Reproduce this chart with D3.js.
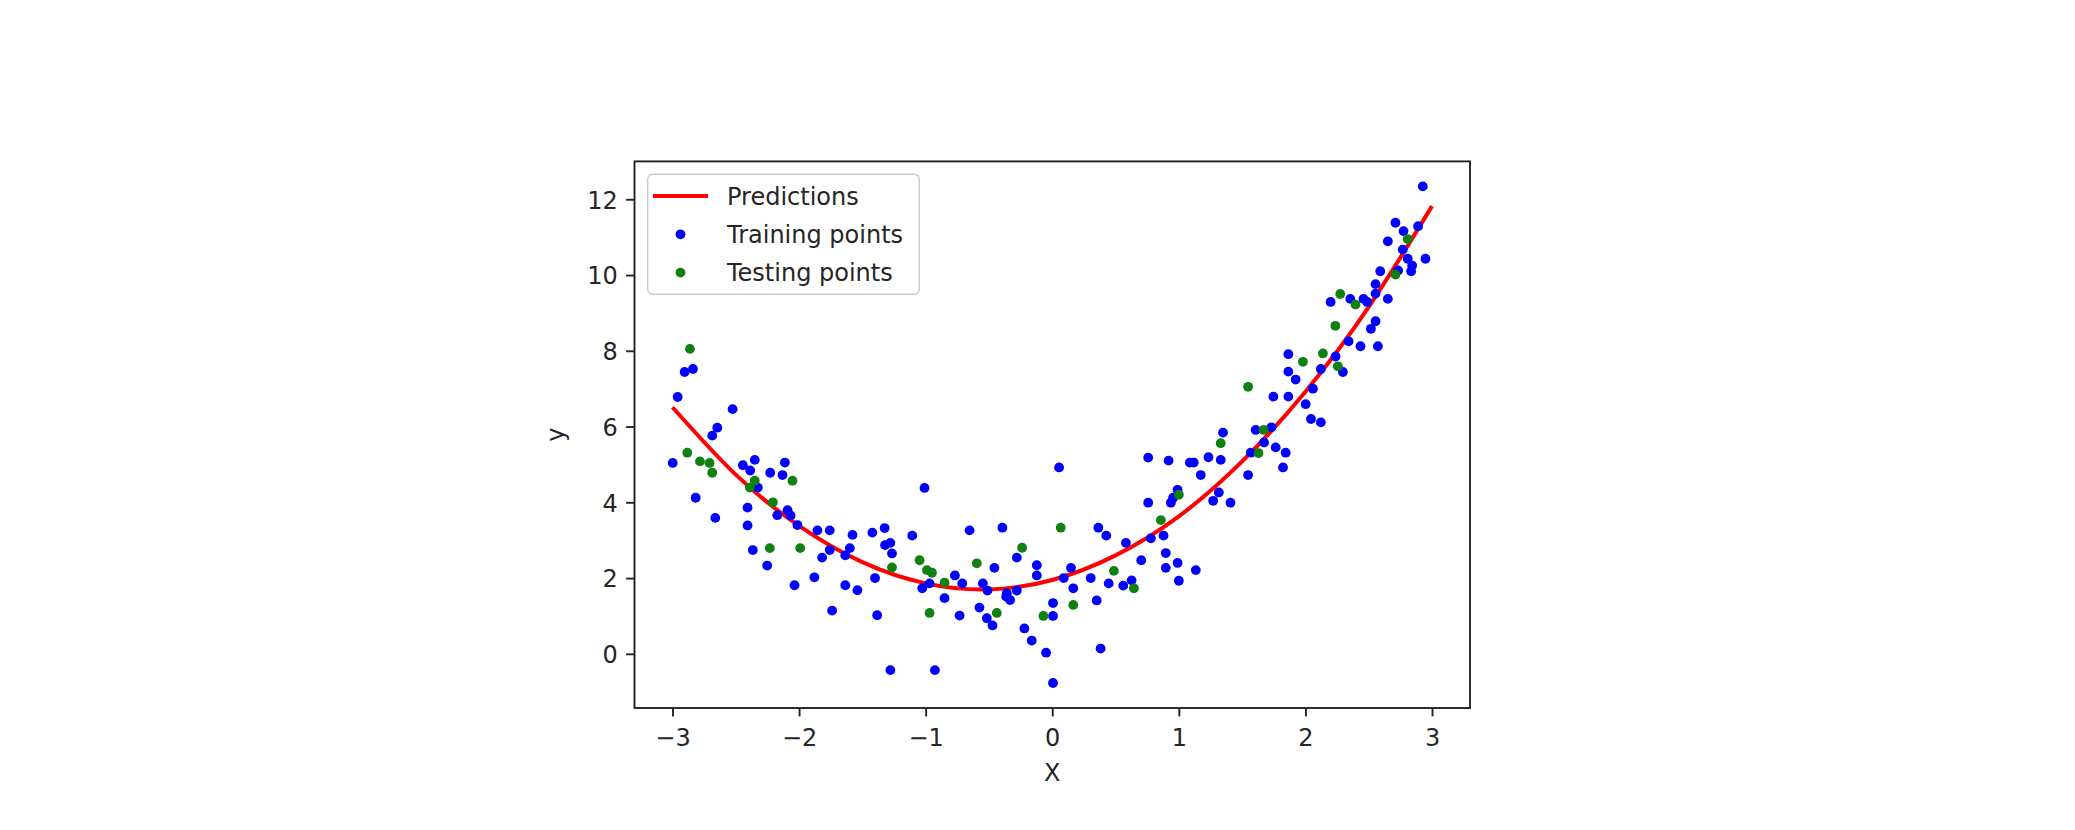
<!DOCTYPE html>
<html>
<head>
<meta charset="utf-8">
<script src="https://cdn.jsdelivr.net/npm/d3@7"></script>
<style>
  html, body { margin: 0; padding: 0; background: #ffffff; }
  svg { display: block; }
  text { font-family: "DejaVu Sans", sans-serif; fill: #262626; }
</style>
</head>
<body>
<svg id="chart" width="2075" height="830"></svg>
<script>
// ---- data ----
const trainX = [
  -2.904,-2.838,-2.959,-2.525,-2.646,-2.686,-2.998,-2.817,-2.662,-2.444,
  -2.350,-2.386,-2.326,-2.112,-2.228,-2.131,-2.407,-2.407,-2.172,-2.091,
  -2.067,-2.013,-2.365,-2.252,-2.036,-1.855,-1.758,-1.818,-1.758,-1.879,
  -1.578,-1.599,-1.635,-1.635,-1.539,-1.739,-1.421,-1.324,-1.400,-1.383,
  -1.279,-1.321,-1.266,-1.279,-1.009,-1.106,-0.969,-1.027,-0.927,-0.851,
  -0.769,-0.711,-0.732,-0.653,-0.575,-0.548,-0.512,-0.517,-0.472,-0.457,
  -0.394,-0.359,-0.333,-0.364,-0.280,-0.280,-0.220,-0.162,-0.122,-0.122,
  -0.049,0.006,0.006,0.006,0.054,0.091,0.148,0.166,0.304,0.351,
  0.364,0.427,0.382,0.446,0.561,0.627,0.582,0.703,0.758,0.919,
  0.758,0.779,0.879,0.897,0.897,0.937,0.955,0.990,0.990,1.000,
  1.134,1.087,1.118,1.173,1.234,1.331,1.349,1.316,1.271,1.408,
  1.547,1.568,1.607,1.673,1.731,1.765,1.844,1.823,1.747,1.865,
  1.865,1.923,1.865,2.002,2.044,2.122,2.059,2.122,2.238,2.296,
  2.341,2.927,2.711,2.775,2.890,2.651,2.769,2.808,2.843,2.835,
  2.948,2.732,2.591,2.554,2.554,2.651,2.488,2.459,2.354,2.199,
  2.554,2.517,2.572,2.435
];
const trainY = [
  7.44,7.52,6.78,6.46,5.97,5.76,5.04,4.12,3.59,4.98,
  5.12,4.84,4.39,5.05,4.78,4.72,3.86,3.39,3.66,3.79,
  3.65,3.40,2.74,2.33,1.81,3.26,3.26,2.54,2.74,2.02,
  3.14,2.79,2.60,1.81,1.68,1.14,3.20,3.32,2.00,1.02,
  2.93,2.87,2.65,-0.43,4.38,3.12,1.86,1.73,-0.43,1.47,
  2.07,1.86,1.01,3.26,1.22,1.86,1.67,0.94,0.75,2.27,
  3.33,1.60,1.42,1.51,1.67,2.54,0.67,0.35,2.34,2.07,
  0.03,-0.77,1.00,1.34,4.92,2.00,2.27,1.73,2.00,1.41,
  3.33,3.12,0.14,1.86,1.80,1.94,2.93,2.47,5.18,5.10,
  3.99,3.05,3.12,2.66,2.27,3.99,4.12,4.33,2.40,1.93,
  2.21,5.05,5.05,4.72,5.19,5.12,5.84,4.26,4.04,3.99,
  4.72,5.31,5.91,5.58,5.98,5.45,5.31,4.92,6.79,6.79,
  7.45,7.24,7.91,6.59,6.20,6.11,7.00,7.52,7.85,7.44,
  8.25,12.34,11.38,11.16,11.29,10.89,10.67,10.43,10.25,10.10,
  10.43,10.12,10.10,9.76,9.51,9.37,9.29,9.37,9.37,9.29,
  8.78,8.58,8.12,8.12
];
const testX = [
  -2.862,-2.883,-2.783,-2.707,-2.686,-2.350,-2.389,-2.052,-2.207,-2.231,
  -1.991,-1.266,-1.048,-0.990,-0.950,-0.969,-0.851,-0.596,-0.438,-0.238,
  -0.070,0.067,0.166,0.487,0.645,0.858,1.000,1.331,1.547,1.629,
  1.670,1.980,2.138,2.256,2.236,2.808,2.711,2.396,2.275
];
const testY = [
  8.05,5.31,5.08,5.04,4.78,4.57,4.39,4.57,4.00,2.79,
  2.79,2.28,2.47,2.21,2.14,1.08,1.88,2.39,1.08,2.80,
  1.00,3.33,1.29,2.19,1.73,3.53,4.20,5.56,7.05,5.30,
  5.91,7.71,7.93,7.59,8.66,10.95,10.01,9.22,9.50
];
const predX = [-3,-2.5,-2,-1.5,-1,-0.5,0,0.5,1,1.5,2,2.5,3];
const predY = [6.51,4.73,3.38,2.42,1.86,1.70,1.95,2.60,3.63,5.08,6.92,9.16,11.82];
const xTicks = [-3,-2,-1,0,1,2,3];
const yTicks = [0,2,4,6,8,10,12];
const legendLabels = ["Predictions","Training points","Testing points"];

// ---- layout ----
const svg = d3.select("#chart");
const L = 634.5, R = 1470, T = 161.4, B = 708;
const FS = 24;
const DOT = 4.9;
const x = d3.scaleLinear().domain([-3.3, 3.3]).range([L, R]);
const y = d3.scaleLinear().domain([-1.43, 13.0]).range([B, T]);

const minus = s => String(s).replace("-", "\u2212");

// prediction line
const line = d3.line().x((d, i) => x(predX[i])).y(d => y(d)).curve(d3.curveNatural);
svg.append("path").datum(predY).attr("d", line)
  .attr("fill", "none").attr("stroke", "#ff0000").attr("stroke-width", 4);

// points
const train = trainX.map((v, i) => [v, trainY[i]]);
const test = testX.map((v, i) => [v, testY[i]]);
svg.append("g").selectAll("circle").data(train).join("circle")
  .attr("cx", d => x(d[0])).attr("cy", d => y(d[1])).attr("r", DOT)
  .attr("fill", "#0000ff");
svg.append("g").selectAll("circle").data(test).join("circle")
  .attr("cx", d => x(d[0])).attr("cy", d => y(d[1])).attr("r", DOT)
  .attr("fill", "#108010");

// axes
const xAxis = d3.axisBottom(x).tickValues(xTicks).tickSize(8.4).tickPadding(8.4)
  .tickFormat(d => minus(d));
const gx = svg.append("g").attr("transform", `translate(0,${B})`).call(xAxis);
const yAxis = d3.axisLeft(y).tickValues(yTicks).tickSize(8.4).tickPadding(8.4)
  .tickFormat(d => minus(d));
const gy = svg.append("g").attr("transform", `translate(${L},0)`).call(yAxis);
[gx, gy].forEach(g => {
  g.select(".domain").remove();
  g.selectAll(".tick line").attr("stroke", "#222").attr("stroke-width", 1.9);
  g.selectAll(".tick text").attr("font-size", FS).attr("font-family", "DejaVu Sans")
    .attr("fill", "#262626");
});
gx.selectAll(".tick text").attr("dy", null).attr("y", 38);
gy.selectAll(".tick text").attr("dy", "0.3645em");

// frame
svg.append("rect").attr("x", L).attr("y", T).attr("width", R - L).attr("height", B - T)
  .attr("fill", "none").attr("stroke", "#222").attr("stroke-width", 1.9);

// axis labels
svg.append("text").attr("x", (L + R) / 2).attr("y", 781).attr("text-anchor", "middle")
  .attr("font-size", FS).text("X");
svg.append("text").attr("transform", `translate(564,${(T + B) / 2}) rotate(-90)`)
  .attr("text-anchor", "middle").attr("font-size", FS).text("y");

// legend
const lg = svg.append("g");
lg.append("rect").attr("x", 647.7).attr("y", 174.3).attr("width", 271.6).attr("height", 120)
  .attr("rx", 5).attr("ry", 5).attr("fill", "#ffffff").attr("fill-opacity", 0.8)
  .attr("stroke", "#cccccc").attr("stroke-width", 1.5);
const rows = [196, 234.3, 272.6];
lg.append("line").attr("x1", 653).attr("x2", 708).attr("y1", rows[0]).attr("y2", rows[0])
  .attr("stroke", "#ff0000").attr("stroke-width", 4);
lg.append("circle").attr("cx", 680.5).attr("cy", rows[1]).attr("r", DOT).attr("fill", "#0000ff");
lg.append("circle").attr("cx", 680.5).attr("cy", rows[2]).attr("r", DOT).attr("fill", "#108010");
legendLabels.forEach((t, i) => {
  lg.append("text").attr("x", 727).attr("y", rows[i] + 8.5).attr("font-size", FS).text(t);
});
</script>
</body>
</html>
